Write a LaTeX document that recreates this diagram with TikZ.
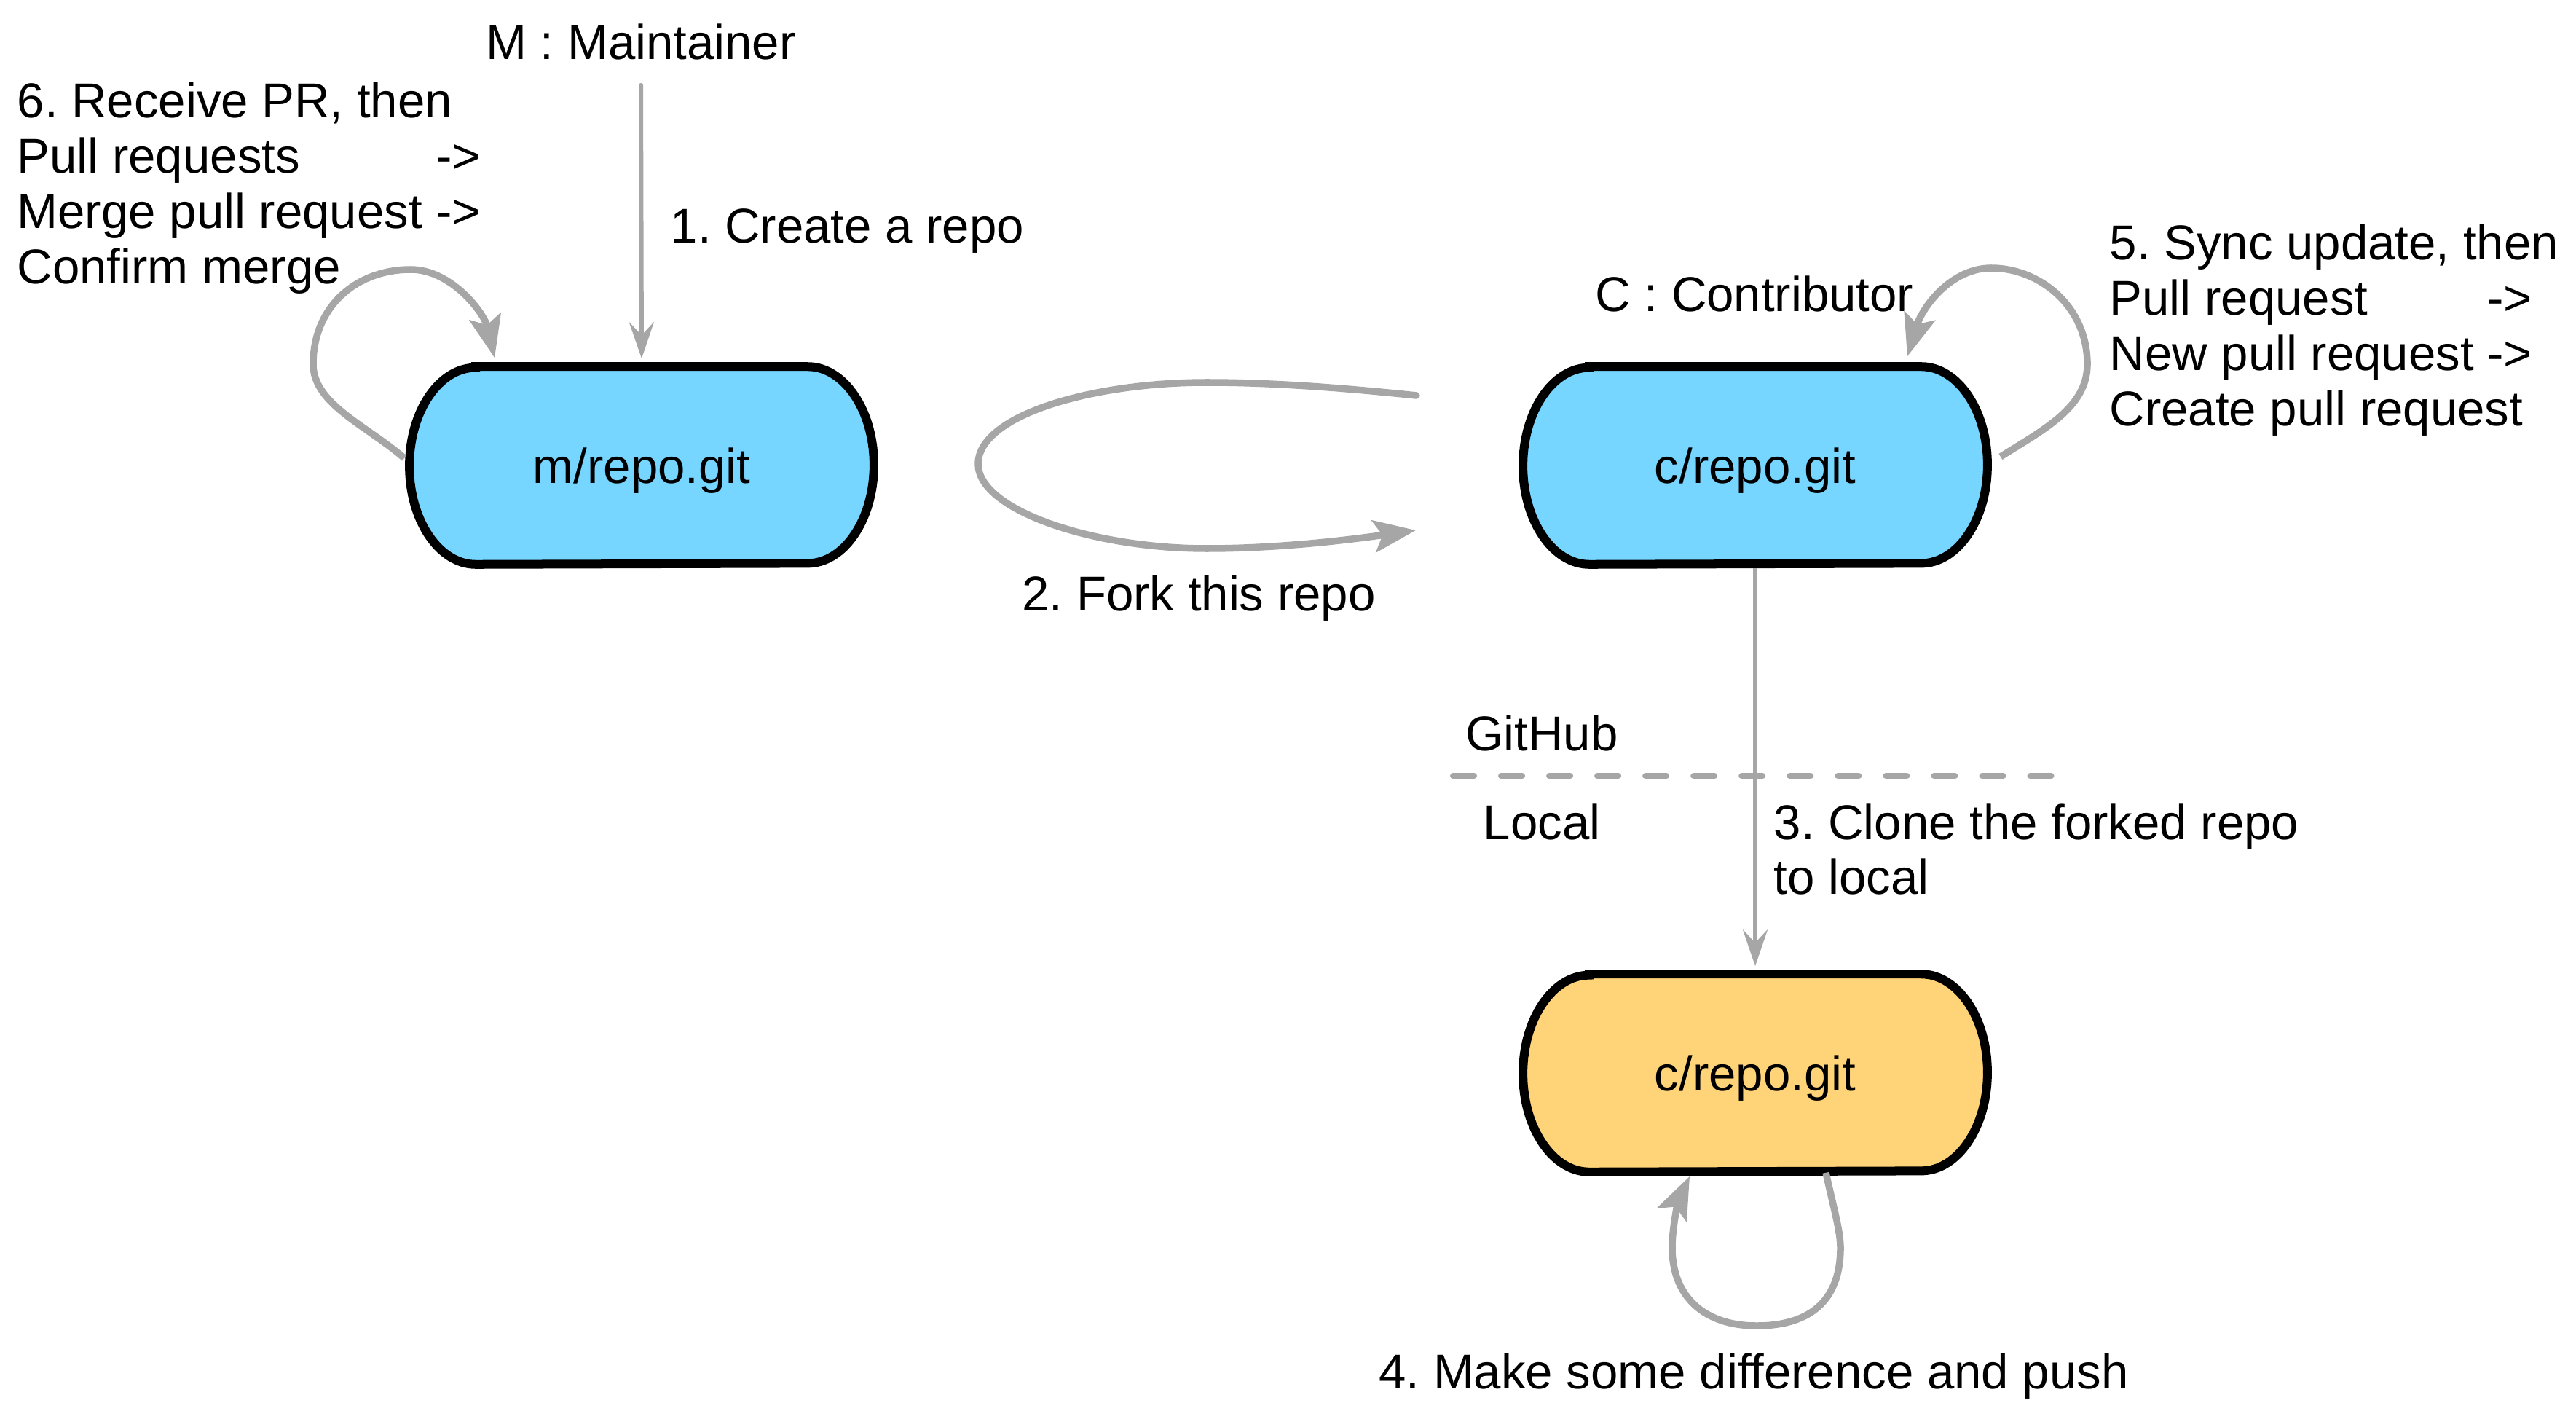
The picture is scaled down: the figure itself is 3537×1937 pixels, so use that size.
\documentclass[tikz,border=0pt]{standalone}
\usepackage{fontspec}
\setmainfont{Liberation Sans}
\usetikzlibrary{arrows.meta,backgrounds,calc}
\definecolor{sky}{HTML}{76D6FF}
\definecolor{canta}{HTML}{FFD479}
\definecolor{linegray}{HTML}{A6A6A6}
\frenchspacing
\newcommand\repobarrel[2]{%
  \draw[line width=0.12cm, fill=#2]
    ($(#1.north west)+(0.91cm,0)$) -- ($(#1.north east)+(-0.91cm,0)$)
    arc[start angle=90,end angle=-90,x radius=0.91cm,y radius=1.35cm]
    -- ($(#1.south west)+(0.91cm,0)$)
    arc[start angle=270,end angle=90,x radius=0.91cm,y radius=1.35cm]
    -- cycle;}
\begin{document}
\begin{tikzpicture}[x=0.01cm,y=-0.01cm,
  every node/.style={font=\fontsize{19.1pt}{21.6pt}\selectfont, inner sep=0pt},
  repo/.style={minimum width=6.36cm, minimum height=2.70cm, text height=0.56cm, text depth=0.08cm},
  thinarrow/.style={draw=linegray, line width=0.06cm, line cap=round,
    -{Stealth[length=0.5cm,width=0.34cm,inset=0.18cm]}},
  looparrow/.style={draw=linegray, line width=0.095cm,
    -{Stealth[length=0.58cm,width=0.44cm,inset=0.12cm]}},
  ]
\useasboundingbox (0,0) rectangle (3537,1937);

% boxes
\node[repo] (m) at (881,639) {m/repo.git};
\node[repo] (c) at (2410,639) {c/repo.git};
\node[repo] (cl) at (2410,1473) {c/repo.git};
\begin{scope}[on background layer]
  \repobarrel{m}{sky}
  \repobarrel{c}{sky}
  \repobarrel{cl}{canta}
\end{scope}

% texts
\node[anchor=base] (mt) at (880,82) {M : Maintainer};
\node[anchor=base west] (t1) at (920,334) {1. Create a repo};
\node[anchor=base west] (t6) at (23,162) {\begin{tabular}[t]{@{}l@{ }l@{}}\multicolumn{2}{@{}l@{}}{6. Receive PR, then}\\ Pull requests & ->\\ Merge pull request & ->\\ \multicolumn{2}{@{}l@{}}{Confirm merge}\end{tabular}};
\node[anchor=base west] (t5) at (2896,357) {\begin{tabular}[t]{@{}l@{ }l@{}}\multicolumn{2}{@{}l@{}}{5. Sync update, then}\\ Pull request & ->\\ New pull request & ->\\ \multicolumn{2}{@{}l@{}}{Create pull request}\end{tabular}};
\node[anchor=base] (ct) at (2409,428) {C : Contributor};
\node[anchor=base] (t2) at (1646,838) {2. Fork this repo};
\node[anchor=base] (gh) at (2117,1030) {GitHub};
\node[anchor=base] (lc) at (2117,1152) {Local};
\node[anchor=base west] (t3) at (2435,1152) {\begin{tabular}[t]{@{}l@{}}3. Clone the forked repo\\to local\end{tabular}};
\node[anchor=base] (t4) at (2408,1906) {4. Make some difference and push};

% separator
\draw[linegray, line width=0.08cm, line cap=round, dash pattern=on 0.29cm off 0.37cm]
  (1995,1065) -- (2830,1065);

% 1. create
\coordinate (mtop) at (880,117);
\draw[thinarrow, shorten >=0.11cm] (mtop) -- (m.north);

% 3. clone
\draw[thinarrow, line cap=butt, shorten <=0.05cm, shorten >=0.11cm] (c.south) -- (cl.north);

% 6. loop on m
\draw[looparrow] ($(m.west)+(-7,-10)$) .. controls (505,585) and (430,555) .. (430,500)
  .. controls (430,420) and (490,370) .. (564,370)
  .. controls (620,370) and (665,430) .. ($(m.north west)+(117,-12)$);

% 5. loop on c
\draw[looparrow] ($(c.east)+(18,-12)$) .. controls (2805,590) and (2866,560) .. (2866,500)
  .. controls (2866,420) and (2800,368) .. (2734,368)
  .. controls (2680,368) and (2640,420) .. ($(c.north east)+(-110,-14)$);

% 4. loop on local
\draw[looparrow] ($(cl.south)+(97,1)$) .. controls (2518,1660) and (2527,1690) .. (2527,1713)
  .. controls (2527,1790) and (2480,1820) .. (2412,1820)
  .. controls (2340,1820) and (2296,1780) .. (2296,1713)
  .. controls (2296,1680) and (2306,1645) .. ($(cl.south)+(-90,6)$);

% 2. fork
\coordinate (fs) at (1945,543);
\coordinate (fe) at (1944,728);
\draw[looparrow, line cap=round] (fs) .. controls (1850,533) and (1750,525) .. (1657,525)
  .. controls (1500,525) and (1343,570) .. (1343,637)
  .. controls (1343,700) and (1500,753) .. (1657,753)
  .. controls (1760,753) and (1860,740) .. (fe);

\end{tikzpicture}
\end{document}
